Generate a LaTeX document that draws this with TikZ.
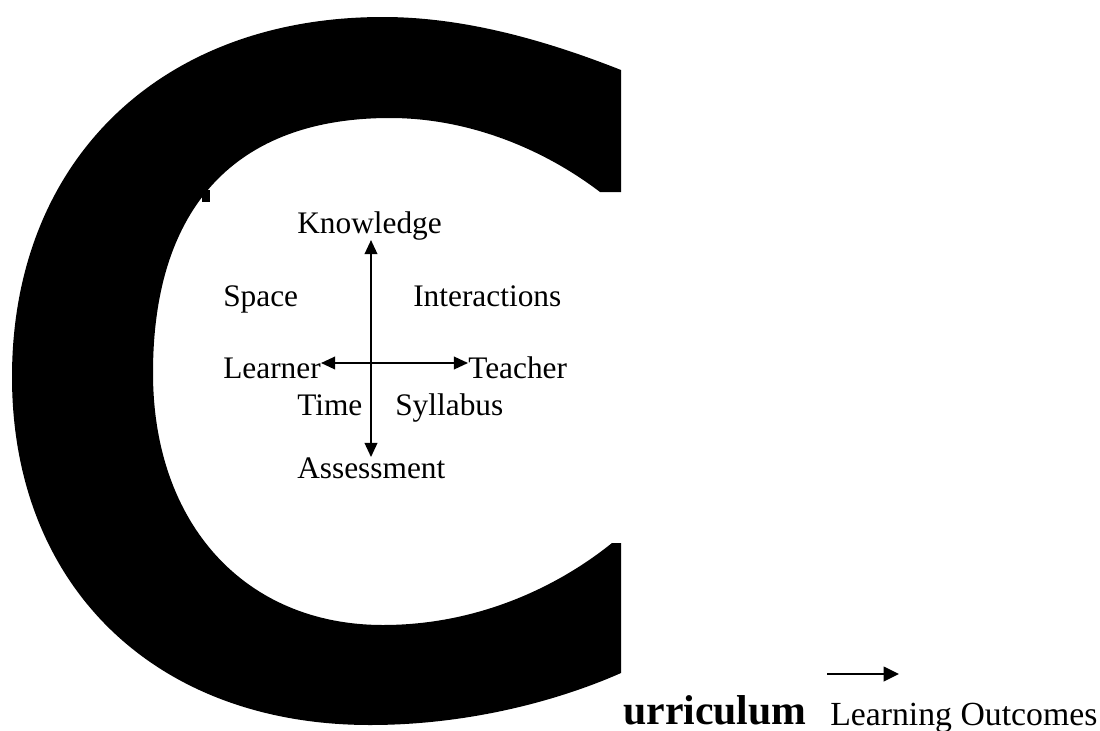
\documentclass[tikz,border=0pt]{standalone}
\usepackage{fontspec}
\setmainfont{Liberation Serif}
\usetikzlibrary{arrows.meta, positioning}

\begin{document}
\begin{tikzpicture}[x=0.025cm, y=-0.025cm,
    lbl/.style={anchor=base west, inner sep=0pt, font=\fontsize{22.3}{26}\selectfont},
    dbl/.style={{Triangle[length=10pt,width=9pt]}-{Triangle[length=10pt,width=9pt]}, line width=1.2pt},
  ]
  \useasboundingbox (0,0) rectangle (1100,731);

  % the big letter C
  \fill[black] (621,70) .. controls (540,38) and (460,17) .. (383,17)
    .. controls (160,17) and (12,161) .. (12,377)
    .. controls (12,586) and (155,725) .. (370,725)
    .. controls (470,725) and (560,700) .. (621,673)
    -- (621,543) -- (612,543)
    .. controls (560,585) and (480,625) .. (383,625)
    .. controls (245,625) and (153,524) .. (153,373)
    .. controls (153,207) and (236,118) .. (390,118)
    .. controls (470,118) and (545,150) .. (600,192)
    -- (621,192) -- cycle;
  \fill[black] (202,190) rectangle (210,202);

  % labels round the cross
  \node[lbl] (knowledge)    at (297,233) {Knowledge};
  \node[lbl] (space)        at (223,306) {Space};
  \node[lbl] (interactions) at (413,306) {Interactions};
  \node[lbl] (learner)      at (223,378) {Learner};
  \node[lbl] (teacher)      at (468,378) {Teacher};
  \node[lbl] (time)         at (297,415) {Time};
  \node[lbl] (syllabus)     at (395,415) {Syllabus};
  \node[lbl] (assessment)   at (297,478) {Assessment};
  \coordinate (hub) at (371,363);

  \draw[dbl] (knowledge.south -| hub) -- (assessment.north -| hub);
  \draw[dbl] (learner.east |- hub) -- (teacher.west |- hub);

  % bottom line
  \node[anchor=base west, inner sep=0pt, font=\fontsize{29.7}{34}\selectfont\bfseries] (urr) at (623,724) {urriculum};
  \node[anchor=base west, inner sep=0pt, font=\fontsize{24}{28}\selectfont] (outcomes) at (830,725) {Learning Outcomes};
  \coordinate (lo1) at (827,674);
  \coordinate (lo2) at (899,674);
  \draw[-{Triangle[length=11pt,width=10.5pt]}, line width=1.2pt] (lo1) -- (lo2);
\end{tikzpicture}
\end{document}
